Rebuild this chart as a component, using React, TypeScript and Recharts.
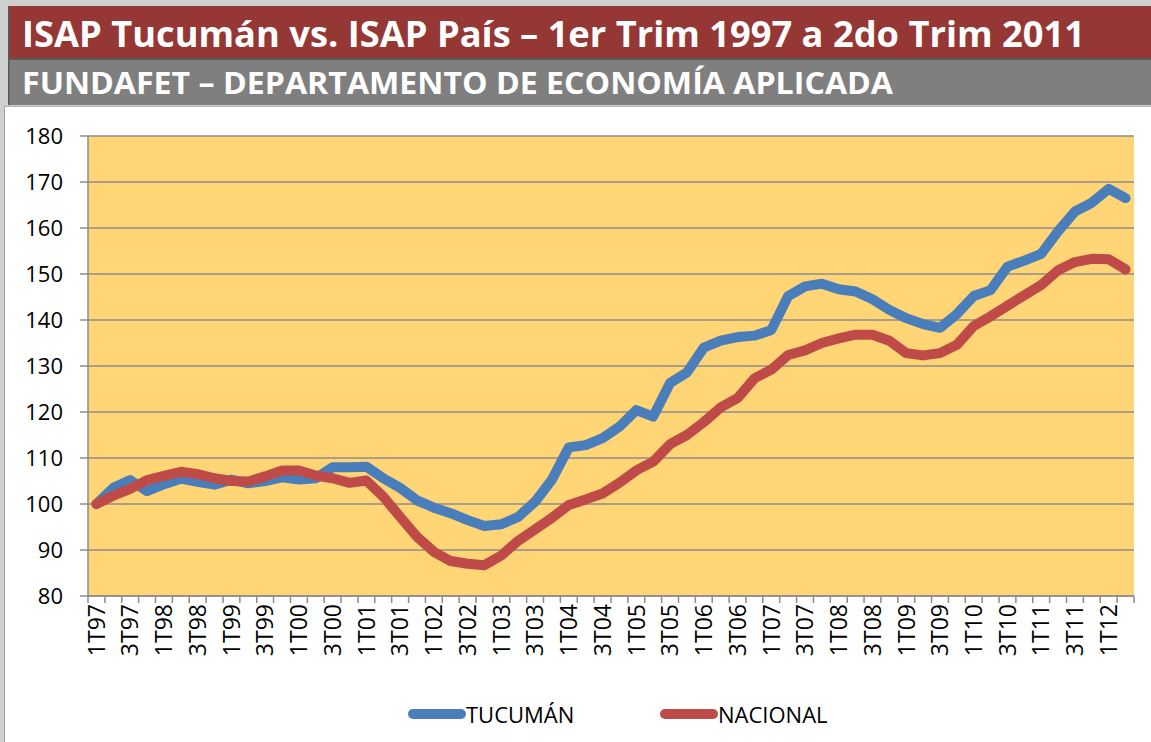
import React from "react";
import { LineChart, Line, XAxis, YAxis, CartesianGrid, Legend } from "recharts";

const quarters = [
  "1T97", "2T97", "3T97", "4T97", "1T98", "2T98", "3T98", "4T98",
  "1T99", "2T99", "3T99", "4T99", "1T00", "2T00", "3T00", "4T00",
  "1T01", "2T01", "3T01", "4T01", "1T02", "2T02", "3T02", "4T02",
  "1T03", "2T03", "3T03", "4T03", "1T04", "2T04", "3T04", "4T04",
  "1T05", "2T05", "3T05", "4T05", "1T06", "2T06", "3T06", "4T06",
  "1T07", "2T07", "3T07", "4T07", "1T08", "2T08", "3T08", "4T08",
  "1T09", "2T09", "3T09", "4T09", "1T10", "2T10", "3T10", "4T10",
  "1T11", "2T11", "3T11", "4T11", "1T12", "2T12",
];

const tucuman = [
  100, 103.5, 105.2, 102.8, 104.3, 105.5, 104.8, 104.2,
  105.3, 104.5, 105, 105.8, 105.3, 105.6, 108, 108,
  108.1, 105.6, 103.5, 100.8, 99.2, 98, 96.5, 95.2,
  95.6, 97.2, 100.5, 105.3, 112.3, 112.8, 114.3, 116.8,
  120.4, 119, 126.3, 128.6, 134, 135.5, 136.3, 136.6,
  137.8, 145.2, 147.3, 147.9, 146.7, 146.2, 144.5, 142.2,
  140.4, 139.1, 138.3, 141.3, 145.2, 146.5, 151.6, 152.9,
  154.4, 159.3, 163.6, 165.5, 168.5, 166.5,
];

const nacional = [
  100, 101.8, 103.3, 105.2, 106.1, 107, 106.5, 105.6,
  105, 104.9, 106, 107.3, 107.3, 106.2, 105.6, 104.6,
  105.1, 101.6, 97.2, 92.9, 89.6, 87.6, 87, 86.7,
  88.8, 92, 94.5, 97, 99.8, 101, 102.3, 104.6,
  107.3, 109.2, 113, 115, 117.8, 121, 123, 127.3,
  129.2, 132.4, 133.4, 135, 136, 136.8, 136.8, 135.5,
  132.8, 132.3, 132.8, 134.6, 138.7, 140.8, 143.1, 145.4,
  147.6, 150.8, 152.6, 153.3, 153.2, 151,
];

const yTicks = [80, 90, 100, 110, 120, 130, 140, 150, 160, 170, 180];

const BLUE = "#4A7EBB";
const RED = "#BE4B48";
const GRID = "#8c8c8c";
const FONT = "'Open Sans', sans-serif";

const rows = quarters.map((q, i) => ({ i, q, tucuman: tucuman[i], nacional: nacional[i] }));
// tick marks sit on the boundaries between quarters, labels on every other quarter
const boundaryTicks = [...quarters.map((_, i) => i - 0.5), quarters.length - 0.5];
const labelTicks = quarters.map((_, i) => i).filter((i) => i % 2 === 0);
const xTicks = [...boundaryTicks, ...labelTicks].sort((a, b) => a - b);
const xDomain = [-0.5, quarters.length - 0.5];

const XTick = (props: any) => {
  const { x, y, payload } = props;
  const v = payload.value;
  if (!Number.isInteger(v)) {
    return <line x1={x} x2={x} y1={y - 8} y2={y - 1} stroke={GRID} strokeWidth={1.5} />;
  }
  return (
    <text
      x={0}
      y={0}
      dy="0.36em"
      textAnchor="end"
      transform={`translate(${x},${y}) rotate(-90)`}
      fontSize={23}
      fill="#000"
      fontFamily={FONT}
    >
      {quarters[v]}
    </text>
  );
};

const LegendBox = () => (
  <div style={{ height: 30, display: "flex", alignItems: "center", paddingLeft: 403, fontFamily: FONT, fontSize: 22, color: "#000" }}>
    <span style={{ width: 58, height: 10, borderRadius: 5, background: BLUE, display: "inline-block" }} />
    <span style={{ width: 194 }}>TUCUMÁN</span>
    <span style={{ width: 58, height: 10, borderRadius: 5, background: RED, display: "inline-block" }} />
    <span>NACIONAL</span>
  </div>
);

export default function App() {
  return (
    <div style={{ position: "absolute", left: 0, top: 0, width: 1151, height: 742, background: "#cfcfcf", overflow: "hidden" }}>
      <svg width={1151} height={107} style={{ position: "absolute", left: 0, top: 0 }}>
        <rect x={9} y={6} width={1142} height={52} fill="#953735" />
        <rect x={9} y={58} width={1142} height={2} fill="#595959" />
        <rect x={9} y={60} width={1142} height={45} fill="#7f7f7f" />
        <rect x={8} y={6} width={1.5} height={99} fill="#595959" />
        <text x={22} y={47} fill="#fff" fontFamily={FONT} fontWeight={700} fontSize={35} textLength={1063} lengthAdjust="spacingAndGlyphs">
          ISAP Tucumán vs. ISAP País – 1er Trim 1997 a 2do Trim 2011
        </text>
        <text x={22} y={94} fill="#fff" fontFamily={FONT} fontWeight={700} fontSize={30} textLength={871} lengthAdjust="spacingAndGlyphs">
          FUNDAFET – DEPARTAMENTO DE ECONOMÍA APLICADA
        </text>
      </svg>
      <div style={{ position: "absolute", left: 4, top: 106, width: 1147, height: 636, background: "#fff", borderLeft: "1.5px solid #a0a0a0", borderTop: "1px solid #b0b0b0" }}>
        <LineChart width={1146} height={635} data={rows} margin={{ top: 29, right: 17, bottom: 13, left: 0 }} style={{ fontFamily: FONT }}>
          <CartesianGrid vertical={false} stroke={GRID} strokeWidth={1.5} fill="#FFD576" fillOpacity={1} />
          <XAxis
            type="number"
            dataKey="i"
            domain={xDomain}
            ticks={xTicks}
            interval={0}
            tick={<XTick />}
            tickLine={false}
            tickSize={0}
            tickMargin={8}
            axisLine={{ stroke: GRID, strokeWidth: 1.5 }}
            height={103}
          />
          <YAxis
            domain={[80, 180]}
            ticks={yTicks}
            interval={0}
            width={83}
            tickSize={8}
            tickMargin={17}
            tickLine={{ stroke: GRID, strokeWidth: 1.5 }}
            axisLine={{ stroke: GRID, strokeWidth: 1.5 }}
            tick={{ fill: "#000", fontSize: 22, fontFamily: FONT }}
          />
          <Legend content={<LegendBox />} verticalAlign="bottom" height={30} />
          <Line type="linear" dataKey="tucuman" name="TUCUMÁN" stroke={BLUE} strokeWidth={10} strokeLinejoin="round" strokeLinecap="round" dot={false} isAnimationActive={false} />
          <Line type="linear" dataKey="nacional" name="NACIONAL" stroke={RED} strokeWidth={10} strokeLinejoin="round" strokeLinecap="round" dot={false} isAnimationActive={false} />
        </LineChart>
      </div>
    </div>
  );
}
